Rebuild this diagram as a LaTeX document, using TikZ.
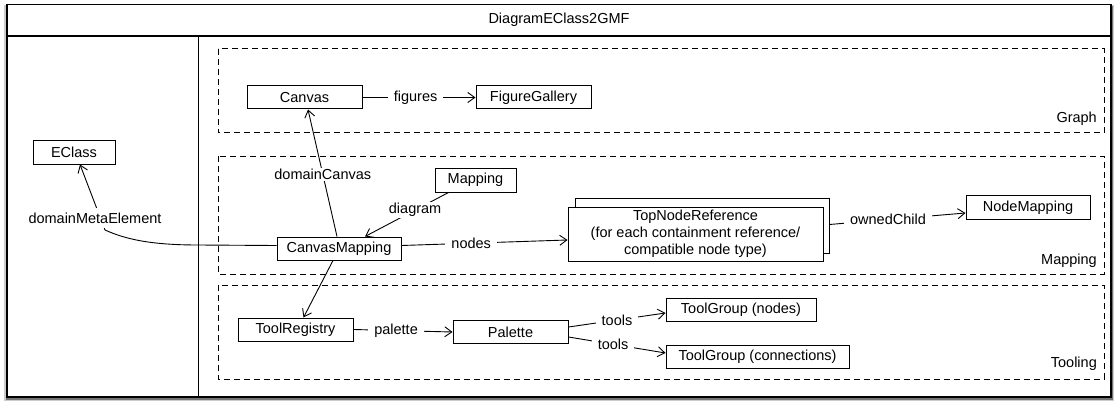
\documentclass[tikz,border=0pt]{standalone}
\usepackage{fontspec}
\setmainfont{Liberation Sans}
\usetikzlibrary{arrows.meta,calc}
\begin{document}
\begin{tikzpicture}[x=1pt,y=-1pt,
  every node/.style={font=\fontsize{14.5}{17}\selectfont},
  box/.style={draw,line width=1pt,fill=white,inner sep=0pt,minimum height=23pt},
  group/.style={draw,line width=1pt,dash pattern=on 6pt off 4pt},
  conn/.style={line width=0.9pt,-{Straight Barb[length=7pt,width=10pt,line width=0.9pt]}},
  plainline/.style={line width=0.9pt},
  lbl/.style={fill=white,inner xsep=6pt,inner ysep=1pt},
  grouplbl/.style={anchor=east,inner sep=0pt}]
\useasboundingbox (0,0) rectangle (1116,401);
% frame with shadow
\fill[black!20] (4,5) rectangle (1114,401);
\fill[black!55] (5.5,6) rectangle (1112.5,399.5);
\fill[white] (7,4.5) rectangle (1111,397);
\draw[line width=1.1pt] (7,4.5) rectangle (1111,397);
\draw[line width=1.1pt] (7,36) -- (1111,36);
\draw[line width=1pt] (198,36) -- (198,397);
\node (title) at (559,20) {DiagramEClass2GMF};
% groups
\draw[group] (218,49) rectangle (1104,133);
\draw[group] (218,156) rectangle (1104,274);
\draw[group] (218,285) rectangle (1104,379);
\node[grouplbl] (glbl) at (1097,119) {Graph};
\node[grouplbl] (mlbl) at (1097,261) {Mapping};
\node[grouplbl] (tlbl) at (1097,364) {Tooling};
% nodes
\node[box,minimum width=115pt] (canvas) at (304.5,97.5) {Canvas};
\node[box,minimum width=115pt] (figgal) at (533.5,97.5) {FigureGallery};
\node[box,minimum width=82pt] (eclass) at (74,152.5) {EClass};
\node[box,minimum width=81pt,minimum height=24pt] (mapping) at (475.5,180) {Mapping};
\node[box,minimum width=124pt] (cm) at (339,248.5) {CanvasMapping};
\node[box,minimum width=254pt,minimum height=55pt] (tnrback) at (702,225.5) {};
\node[box,minimum width=255pt,minimum height=54pt,align=center] (tnr) at (695.5,234)
  {TopNodeReference\\(for each containment reference/\\compatible node type)};
\node[box,minimum width=124pt,minimum height=24pt] (nodemap) at (1028,207.5) {NodeMapping};
\node[box,minimum width=115pt] (toolreg) at (295.5,329.5) {ToolRegistry};
\node[box,minimum width=115pt] (palette) at (510.5,332) {Palette};
\node[box,minimum width=150pt] (tgnodes) at (741,309.5) {ToolGroup (nodes)};
\node[box,minimum width=183pt] (tgconn) at (757.5,356.5) {ToolGroup (connections)};
% connectors
\draw[conn] (canvas.east) -- node[lbl,pos=0.47] {figures} (figgal.west);
\draw[conn] ([xshift=-2pt]cm.north) -- node[lbl,pos=0.49] {domainCanvas} ([xshift=3.5pt]canvas.south);
\coordinate (dmebend) at (198,245);
\draw[conn] ([yshift=3pt]cm.west) -- (dmebend) .. controls (150,245) and (125,239) .. (105,230) -- ([xshift=6pt]eclass.south);
\node[fill=white,inner xsep=2pt,inner ysep=5pt] (dmelbl) at (95,218) {domainMetaElement};
\draw[conn] ([xshift=-27pt]mapping.south) -- node[lbl,pos=0.4] {diagram} ([xshift=26pt]cm.north);
\draw[conn] ([yshift=3pt]cm.east) -- node[lbl,pos=0.42] {nodes} ([yshift=-6pt]tnr.west);
\draw[conn] ([yshift=1pt]tnrback.east) -- node[lbl,pos=0.43] {ownedChild} ([yshift=-5.5pt]nodemap.west);
\draw[conn] ([xshift=-6pt]cm.south) -- ([xshift=8pt]toolreg.north);
\draw[conn] (toolreg.east) -- node[lbl,pos=0.43] {palette} (palette.west);
\draw[conn] ([yshift=5pt]palette.east) -- node[lbl,pos=0.5] {tools} ([yshift=-3.5pt]tgnodes.west);
\draw[conn] ([yshift=-5pt]palette.east) -- node[lbl,pos=0.46] {tools} ([yshift=3.5pt]tgconn.west);
\end{tikzpicture}
\end{document}
